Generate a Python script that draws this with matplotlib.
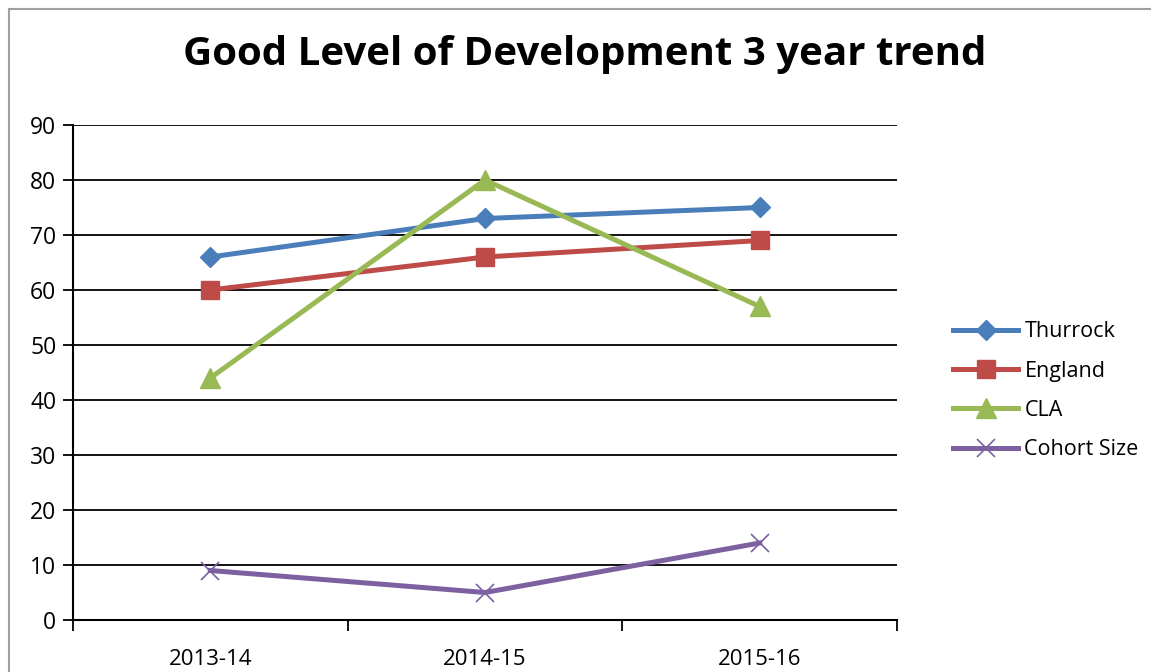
import matplotlib.pyplot as plt
from matplotlib.patches import Rectangle

years = ['2013-14', '2014-15', '2015-16']
thurrock = [66, 73, 75]
england = [60, 66, 69]
cla = [44, 80, 57]
cohort = [9, 5, 14]

plt.rcParams['font.family'] = ['Open Sans', 'DejaVu Sans']

fig = plt.figure(figsize=(11.51, 6.72), dpi=100)
fig.patches.append(Rectangle((9/1151, -0.1), 1.2, (672-9)/672 + 0.1, transform=fig.transFigure,
                             fill=False, edgecolor='#a0a0a0', linewidth=1.5))
ax = fig.add_axes([73/1151, 52/672, 824/1151, 495/672])

x = range(len(years))
ax.plot(x, thurrock, color='#4A7EBB', lw=3.6, marker='D', ms=10, label='Thurrock')
ax.plot(x, england, color='#BE4B48', lw=3.6, marker='s', ms=13, label='England')
ax.plot(x, cla, color='#98B954', lw=3.6, marker='^', ms=15, label='CLA')
ax.plot(x, cohort, color='#7D60A0', lw=3.6, marker='x', ms=13, mew=1.2, label='Cohort Size')

ax.set_xlim(-0.5, 2.5)
ax.set_ylim(0, 90)
ax.set_yticks(range(0, 91, 10))
ax.set_xticks(list(x))
ax.set_xticklabels(years)
ax.set_xticks([-0.5, 0.5, 1.5, 2.5], minor=True)
ax.tick_params(axis='x', which='major', length=0, pad=21, labelsize=16)
ax.tick_params(axis='x', which='minor', length=8, width=1.3, direction='out')
ax.tick_params(axis='y', length=7, width=1.3, labelsize=16.5, pad=5)
ax.grid(axis='y', color='black', lw=1.3)
ax.set_axisbelow(True)
for s in ['top', 'right']:
    ax.spines[s].set_visible(False)
for s in ['left', 'bottom']:
    ax.spines[s].set_linewidth(1.5)

fig.text(585/1151, 1 - 55/672, 'Good Level of Development 3 year trend', ha='center', va='center',
         fontsize=29, fontweight='bold')

ax.legend(loc='center left', bbox_to_anchor=(1.045, 0.463), frameon=False, fontsize=15.5,
          handlelength=3.0, labelspacing=0.85, handletextpad=0.3)

fig.savefig('out.png', dpi=100)
